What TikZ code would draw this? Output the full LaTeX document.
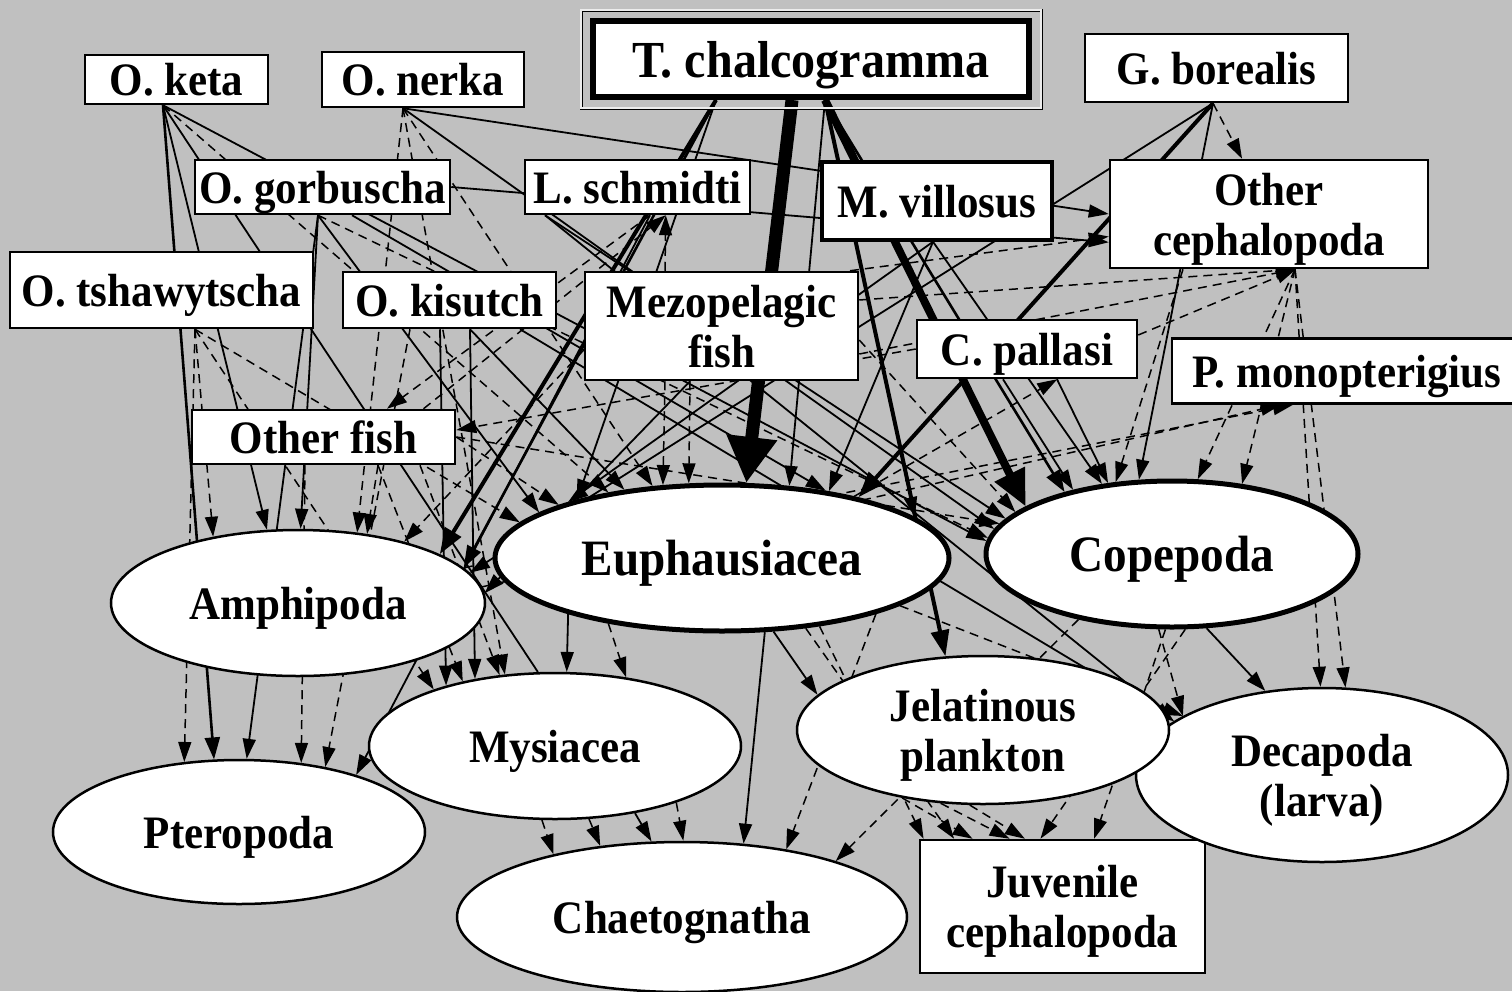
\documentclass[tikz,border=0pt]{standalone}
\usepackage{fontspec}
\setmainfont{Liberation Serif}[FakeStretch=0.925]
\usetikzlibrary{shapes.geometric,arrows.meta}
\pgfdeclarelayer{bglayer}
\pgfdeclarelayer{edges}
\pgfsetlayers{bglayer,edges,main}
\definecolor{bg}{RGB}{192,192,192}
\begin{document}
\begin{tikzpicture}[x=1pt,y=-1pt,
 lab/.style={font=\fontsize{46.5}{50}\selectfont\bfseries, align=center, inner sep=0pt, fill=white, draw, line width=2.5pt, text depth=0pt},
 box/.style={lab, rectangle},
 ell/.style={lab, ellipse},
 big/.style={font=\fontsize{51}{55}\selectfont\bfseries},
 se/.style={line width=1.8pt, -{Triangle[length=20pt,width=13pt]}},
 sn/.style={line width=1.8pt},
 de/.style={line width=1.5pt, dash pattern=on 9pt off 6pt, -{Triangle[length=20pt,width=13pt]}},
 sm/.style={line width=2.6pt, -{Triangle[length=22pt,width=15pt]}},
 sk/.style={line width=4pt, -{Triangle[length=26pt,width=18pt]}},
 sw/.style={line width=8pt, -{Triangle[length=36pt,width=32pt]}},
 sh/.style={line width=13pt, -{Triangle[length=46pt,width=48pt]}}]

\begin{pgfonlayer}{bglayer}
\fill[bg] (0,0) rectangle (1512,991);
\end{pgfonlayer}
\useasboundingbox (0,0) rectangle (1512,991);

% ---------- nodes ----------
\node[box,minimum width=183pt,minimum height=49pt] (keta) at (176.5,79.5) {O. keta};
\node[box,minimum width=202pt,minimum height=55pt] (nerka) at (423,79.5) {O. nerka};
\node[box,line width=6pt,minimum width=436pt,minimum height=76pt,font=\fontsize{52}{56}\selectfont\bfseries] (tchal) at (811,59) {T. chalcogramma};
\draw[line width=0.8pt,double=white!70!bg,double distance=1.4pt] ([xshift=-9pt,yshift=8pt]tchal.north west) rectangle ([xshift=9pt,yshift=-8pt]tchal.south east);
\node[box,minimum width=263pt,minimum height=68pt] (gbor) at (1216.5,68) {G. borealis};
\node[box,minimum width=255pt,minimum height=54pt] (gorb) at (322.5,187) {O. gorbuscha};
\node[box,minimum width=225pt,minimum height=54pt] (lsch) at (637.5,187) {L. schmidti};
\node[box,line width=3.5pt,minimum width=230pt,minimum height=78pt] (mvil) at (937,201) {M. villosus};
\node[box,minimum width=318pt,minimum height=108pt] (ocep) at (1269,214) {Other\\cephalopoda};
\node[box,minimum width=303pt,minimum height=76pt] (tsha) at (161.5,290) {O. tshawytscha};
\node[box,minimum width=213pt,minimum height=56pt] (kisu) at (449.5,300) {O. kisutch};
\node[box,minimum width=273pt,minimum height=108pt] (mezo) at (721.5,326) {Mezopelagic\\fish};
\node[box,minimum width=220pt,minimum height=58pt] (cpal) at (1027,349) {C. pallasi};
\node[box,minimum width=350pt,minimum height=65pt] (pmon) at (1347,371) {P. monopterigius};
\node[box,minimum width=263pt,minimum height=54pt] (ofis) at (323.5,437) {Other fish};
\node[box,minimum width=285pt,minimum height=133pt] (juv) at (1062.5,906.5) {Juvenile\\cephalopoda};

\node[ell,minimum width=374pt,minimum height=146pt] (amph) at (298,603) {Amphipoda};
\node[ell,big,line width=5pt,minimum width=454pt,minimum height=146pt] (euph) at (722,558) {Euphausiacea};
\node[ell,big,line width=5pt,minimum width=372pt,minimum height=146pt] (cope) at (1172,554) {Copepoda};
\node[ell,minimum width=372pt,minimum height=144pt] (pter) at (239,832) {Pteropoda};
\node[ell,minimum width=372pt,minimum height=146pt] (mysi) at (555,746) {Mysiacea};
\node[ell,minimum width=372pt,minimum height=174pt] (deca) at (1322,775) {Decapoda\\(larva)};
\node[ell,minimum width=372pt,minimum height=148pt] (jel) at (983,730) {Jelatinous\\plankton};
\node[ell,minimum width=450pt,minimum height=150pt] (chae) at (682,917) {Chaetognatha};

% ---------- connector start points ----------
\coordinate (kS) at ([xshift=-13.5pt]keta.south);
\coordinate (nS) at ([xshift=-20pt]nerka.south);
\coordinate (tL) at ([xshift=-95pt]tchal.south);
\coordinate (tM) at ([xshift=-19pt]tchal.south);
\coordinate (tR) at ([xshift=14pt]tchal.south);
\coordinate (gS) at ([xshift=-3.5pt]gbor.south);
\coordinate (goS) at ([xshift=-4.5pt]gorb.south);
\coordinate (goS2) at ([xshift=29.5pt]gorb.south);
\coordinate (goR) at (gorb.east);
\coordinate (lS) at ([xshift=12.5pt]lsch.south);
\coordinate (lSL) at ([xshift=-92.5pt]lsch.south);
\coordinate (mvS) at ([xshift=-4pt]mvil.south);
\coordinate (ocS) at ([xshift=-86pt]ocep.south);
\coordinate (ocB) at ([xshift=26pt]ocep.south);
\coordinate (tsS) at ([xshift=33.5pt]tsha.south);
\coordinate (kiS1) at ([xshift=-39.5pt]kisu.south);
\coordinate (kiS2) at ([xshift=-9.5pt]kisu.south);
\coordinate (kiS3) at ([xshift=20.5pt]kisu.south);
\coordinate (kiS4) at ([xshift=70.5pt]kisu.south);
\coordinate (mzB1) at ([xshift=-56.5pt]mezo.south);
\coordinate (mzB2) at ([xshift=-31.5pt]mezo.south);
\coordinate (mzR1) at ([yshift=26pt]mezo.east);
\coordinate (mzR2) at ([yshift=-28pt]mezo.east);
\coordinate (mzR3) at ([yshift=-14pt]mezo.east);
\coordinate (mzT) at ([xshift=-56.5pt]mezo.north);
\coordinate (mzTR) at ([xshift=128.5pt]mezo.north);
\coordinate (mzL) at ([yshift=-24pt]mezo.west);
\coordinate (cpS1) at ([xshift=-24pt]cpal.south);
\coordinate (cpS2) at ([xshift=30pt]cpal.south);
\coordinate (cpL) at (cpal.west);
\coordinate (cpR) at ([yshift=14pt]cpal.east);
\coordinate (ofS1) at ([xshift=-18.5pt]ofis.south);
\coordinate (ofS2) at ([xshift=54.5pt]ofis.south);
\coordinate (ofS3) at ([xshift=96.5pt]ofis.south);
\coordinate (ofR) at (ofis.east);
\coordinate (ofT) at ([xshift=100pt]ofis.north);

% ---------- connectors ----------
\begin{pgfonlayer}{edges}
% O. keta
\draw[sm] (kS) -- (pter.109);
\draw[se] (kS) -- (amph.113);
\draw[sn] (kS) -- (mysi.103);
\draw[de] (kS) -- (euph.150);
\draw[se] (kS) -- (cope.176);
% O. nerka
\draw[se] (nS) -- (ocep.180);
\draw[se] (nS) -- (cope.172);
\draw[de] (nS) -- (amph.50);
\draw[de] (nS) -- (euph.134);
\draw[de] (nS) -- (mysi.125);
% T. chalcogramma
\draw[sh] (tM) -- (euph.72);
\draw[sk] (tL) -- (amph.19);
\draw[sm] (tL) -- (amph.12);
\draw[se] (tL) -- (euph.158);
\draw[sw] (tR) -- (cope.162);
\draw[sk] (tR) -- (jel.117);
\draw[se] (tR) -- (euph.12);
\draw[sm] (tR) -- (cope.150);
\draw[se] (tR) -- (euph.47);
% G. borealis
\draw[sk] (gS) -- (euph.24);
\draw[se] (gS) -- (cope.114);
\draw[se] (gS) -- (amph.10);
\draw[de] (gS) -- (ocep.116);
% O. gorbuscha
\draw[se] (goS) -- (amph.88);
\draw[se] (goS) -- (pter.84);
\draw[se] (goS) -- (euph.166);
\draw[se] (goS2) -- (euph.33);
\draw[de] (goS) -- (cope.175);
\draw[se] (goR) -- (ocep.-170);
% L. schmidti
\draw[se] (lS) -- (pter.26);
\draw[de] (lS) -- (ofis.24);
\draw[se] (lSL) -- (deca.160);
\draw[se] (lSL) -- (cope.168);
% M. villosus
\draw[se] (mvS) -- (euph.32);
\draw[se] (mvS) -- (cope.135);
\draw[se] (mvS) -- (euph.160);
% O. tshawytscha
\draw[de] (tsS) -- (pter.128);
\draw[de] (tsS) -- (amph.142);
\draw[de] (tsS) -- (euph.170);
\draw[de] (tsS) -- (mysi.155);
% O. kisutch
\draw[de] (kiS1) -- (pter.37);
\draw[se] (kiS2) -- (mysi.151);
\draw[se] (kiS3) -- (mysi.140);
\draw[se] (kiS4) -- (deca.160);
\draw[se] (kiS3) -- (euph.145);
% Mezopelagic fish
\draw[se] (mzB2) -- (amph.3);
\draw[de] (mzB1) -- (euph.129);
\draw[de] (mzB2) -- (euph.114);
\draw[de] (mzR1) -- (ocep.-64);
\draw[de] (mzR2) -- (ocep.-64);
\draw[de] (mzR3) -- (cope.165);
\draw[de] (mzT) -- (lsch.-45);
\draw[de] (mzTR) -- (ocep.-172);
\draw[de] (mzL) -- (amph.30);
% C. pallasi
\draw[de] (cpL) -- (ofis.3);
\draw[de] (cpR) -- (ocep.-64);
\draw[se] (cpS2) -- (cope.132);
\draw[se] (cpS1) -- (cope.147);
% Other fish
\draw[de] (ofS1) -- (pter.48);
\draw[de] (ofS2) -- (amph.45);
\draw[de] (ofS2) -- (mysi.145);
\draw[de] (ofS3) -- (mysi.128);
\draw[de] (ofR) -- (cope.170);
\draw[de] (ofR) -- (euph.162);
\draw[de] (ofT) -- (lsch.-45);
% Euphausiacea
\draw[se] (euph.-160) -- (mysi.81);
\draw[de] (euph.-150) -- (mysi.44);
\draw[se] (euph.-60) -- (chae.50);
\draw[se] (euph.-55) -- (jel.168);
\draw[de] (euph.-35) -- (juv.154);
\draw[de] (euph.-40) -- (juv.148);
\draw[de] (euph.-15) -- (deca.157);
\draw[de] (euph.-20) -- (chae.33);
\draw[de] (euph.25) -- (cpal.-45);
% Amphipoda
\draw[de] (amph.5) -- (pmon.-153);
\draw[de] (amph.12) -- (pmon.-148);
% Mysiacea
\draw[de] (mysi.-100) -- (chae.154);
\draw[de] (mysi.-65) -- (chae.139);
\draw[se] (mysi.-40) -- (chae.112);
\draw[de] (mysi.-25) -- (chae.89);
% Jelatinous plankton
\draw[de] (jel.-140) -- (juv.143);
\draw[de] (jel.-120) -- (juv.128);
\draw[de] (jel.-100) -- (juv.119);
% Copepoda
\draw[se] (cope.-65) -- (deca.124);
\draw[de] (cope.-100) -- (deca.157);
\draw[de] (cope.-80) -- (juv.108);
\draw[de] (cope.-95) -- (juv.65);
\draw[de] (cope.-145) -- (chae.20);
% Other cephalopoda
\draw[de] (ocB) -- (deca.91);
\draw[de] (ocB) -- (deca.75);
\draw[de] (ocB) -- (cope.71);
\draw[de] (ocB) -- (cope.45);
\draw[de] (ocS) -- (cope.128);
\end{pgfonlayer}
\end{tikzpicture}
\end{document}
